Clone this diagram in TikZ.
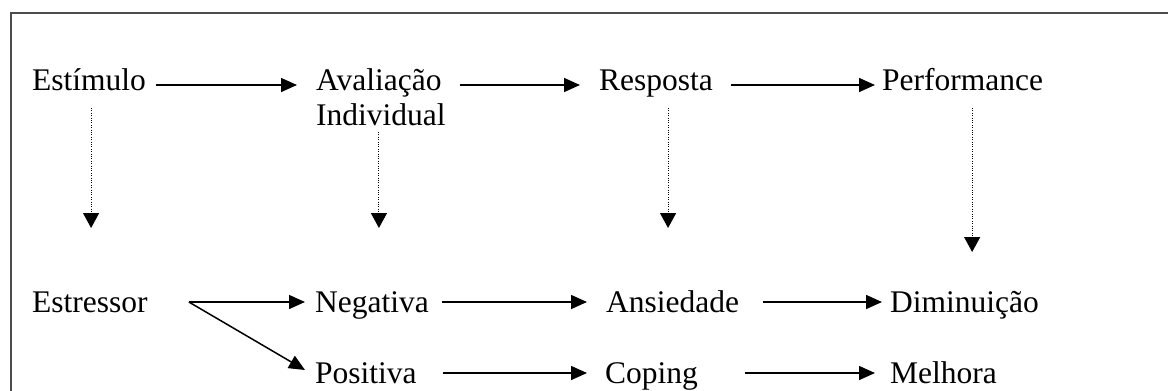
\documentclass[tikz,border=0pt]{standalone}
\usepackage{fontspec}
\setmainfont{Liberation Serif}
\usetikzlibrary{arrows.meta,calc}
\begin{document}
\begin{tikzpicture}[x=1pt,y=-1pt,
  lbl/.style={anchor=base west,inner sep=0pt,font=\fontsize{31.5}{35}\selectfont},
  arr/.style={line width=1.5pt,-{Triangle[length=16pt,width=14pt]}},
  dotarr/.style={line width=1.1pt,dash pattern=on 1pt off 1.4pt,-{Triangle[length=15pt,width=16pt]}},
  frame/.style={line width=2.5pt,draw=black!70}]
\useasboundingbox (0,0) rectangle (1168,391);
\draw[frame] (11,420) -- (11,13) -- (1190,13);
% nodes
\node[lbl] (est) at (32,90) {Estímulo};
\node[lbl] (aval) at (316,90) {\begin{tabular}[t]{@{}l@{}}Avaliação\\Individual\end{tabular}};
\node[lbl] (resp) at (599,90) {Resposta};
\node[lbl] (perf) at (882,90) {Performance};
\node[lbl] (estr) at (32,312) {Estressor};
\node[lbl] (neg) at (315,312) {Negativa};
\node[lbl] (pos) at (315,383) {Positiva};
\node[lbl] (ans) at (606,312) {Ansiedade};
\node[lbl] (cop) at (605,383) {Coping};
\node[lbl] (dim) at (890,312) {Diminuição};
\node[lbl] (mel) at (890,383) {Melhora};
% top row arrows
\draw[arr] ([xshift=10pt,yshift=5pt]est.base east) -- ([xshift=-19pt,yshift=5pt]aval.base west);
\draw[arr] ([xshift=14pt,yshift=5pt]aval.base east) -- ([xshift=-19pt,yshift=5pt]resp.base west);
\draw[arr] ([xshift=18pt,yshift=5pt]resp.base east) -- ([xshift=-7pt,yshift=5pt]perf.base west);
% bottom arrows
\draw[arr] ([xshift=41pt,yshift=10pt]estr.base east) coordinate (split) -- ([xshift=-10pt,yshift=10pt]neg.base west);
\draw[arr] (split) -- ([xshift=-10pt,yshift=13pt]pos.base west);
\draw[arr] ([xshift=13pt,yshift=10pt]neg.base east) -- ([xshift=-19pt,yshift=10pt]ans.base west);
\draw[arr] ([xshift=24pt,yshift=10pt]ans.base east) -- ([xshift=-8pt,yshift=10pt]dim.base west);
\draw[arr] ([xshift=26pt,yshift=10pt]pos.base east) -- ([xshift=-18pt,yshift=10pt]cop.base west);
\draw[arr] ([xshift=47pt,yshift=10pt]cop.base east) -- ([xshift=-15pt,yshift=10pt]mel.base west);
% dotted arrows
\draw[dotarr] ([xshift=2pt,yshift=-18pt]est.base) -- ($(est.base |- estr.base)+(2,-84)$);
\draw[dotarr] ([xshift=-2pt,yshift=-42pt]aval.base) -- ($(aval.base |- neg.base)+(-2,-84)$);
\draw[dotarr] ([xshift=12pt,yshift=-18pt]resp.base) -- ($(resp.base |- ans.base)+(12,-84)$);
\draw[dotarr] ([xshift=9.5pt,yshift=-18pt]perf.base) -- ($(perf.base |- dim.base)+(9.5,-60)$);
\end{tikzpicture}
\end{document}
